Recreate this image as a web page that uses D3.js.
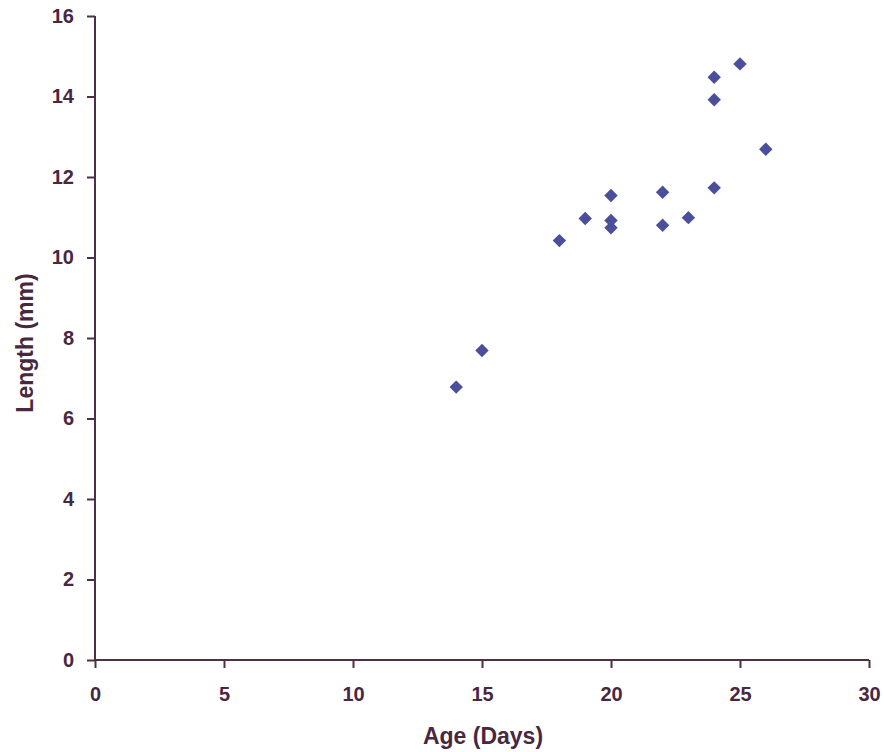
<!DOCTYPE html>
<html>
<head>
<meta charset="utf-8">
<script src="https://cdn.jsdelivr.net/npm/d3@7"></script>
<style>
  html, body { margin: 0; padding: 0; background: #ffffff; }
  svg { display: block; }
  .tick text { font-family: Arial, "Liberation Sans", sans-serif; font-weight: bold; font-size: 20px; fill: #47283f; }
  .axis-title { font-family: Arial, "Liberation Sans", sans-serif; font-weight: bold; font-size: 23px; fill: #47283f; }
</style>
</head>
<body>
<svg id="chart" width="884" height="752"></svg>
<script>
// Age (days) and measured length (mm) for each specimen
const ageDays = [14, 15, 18, 19, 20, 20, 20, 22, 22, 23, 24, 24, 24, 25, 26];
const lengthMm = [6.78, 7.69, 10.42, 10.97, 11.54, 10.92, 10.74, 11.62, 10.80, 10.99, 14.48, 13.92, 11.73, 14.81, 12.69];

const xTicks = [0, 5, 10, 15, 20, 25, 30];
const yTicks = [0, 2, 4, 6, 8, 10, 12, 14, 16];
const xLabel = "Age (Days)";
const yLabel = "Length (mm)";

const svg = d3.select("#chart");
const plot = { left: 95, right: 869, top: 16, bottom: 660 };
const axisColor = "#4a3145";
const markerColor = "#4a4e9b";

const x = d3.scaleLinear().domain([0, 30]).range([plot.left, plot.right]);
const y = d3.scaleLinear().domain([0, 16]).range([plot.bottom, plot.top]);

// x axis
const gx = svg.append("g")
  .attr("transform", `translate(0,${plot.bottom})`)
  .call(d3.axisBottom(x).tickValues(xTicks).tickSize(8).tickPadding(19).tickSizeOuter(8));
gx.selectAll("text").attr("dy", "0.71em");

// y axis
const gy = svg.append("g")
  .attr("transform", `translate(${plot.left},0)`)
  .call(d3.axisLeft(y).tickValues(yTicks).tickSize(8).tickPadding(13).tickSizeOuter(8));

[gx, gy].forEach(g => {
  g.select(".domain").attr("stroke", axisColor).attr("stroke-width", 2);
  g.selectAll(".tick line").attr("stroke", axisColor).attr("stroke-width", 2);
});
// plain axis lines; the end marks come from the ticks themselves
gx.select(".domain").attr("d", `M${plot.left},0H${plot.right}`);
gy.select(".domain").attr("d", `M0,${plot.top}V${plot.bottom}`);

// axis titles
svg.append("text")
  .attr("class", "axis-title")
  .attr("x", (plot.left + plot.right) / 2 + 1)
  .attr("y", 744)
  .attr("text-anchor", "middle")
  .text(xLabel);

svg.append("text")
  .attr("class", "axis-title")
  .attr("transform", `translate(33,${(plot.top + plot.bottom) / 2 + 5}) rotate(-90)`)
  .attr("text-anchor", "middle")
  .text(yLabel);

// diamond markers
const diamond = d3.symbol().type(d3.symbolSquare).size(90);
svg.append("g")
  .selectAll("path")
  .data(ageDays.map((a, i) => [a, lengthMm[i]]))
  .join("path")
  .attr("d", diamond)
  .attr("transform", d => `translate(${x(d[0])},${y(d[1])}) rotate(45)`)
  .attr("fill", markerColor);
</script>
</body>
</html>
